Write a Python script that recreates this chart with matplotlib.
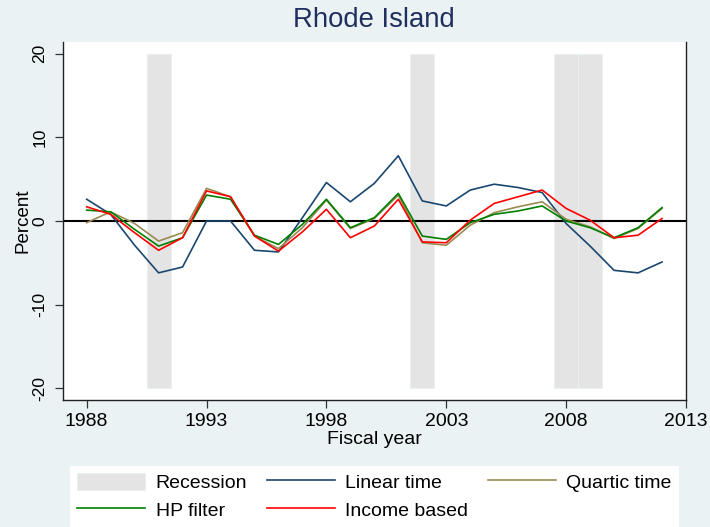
import matplotlib
matplotlib.use('Agg')
import matplotlib.pyplot as plt

plt.rcParams['font.family'] = ['Liberation Sans', 'DejaVu Sans']
plt.rcParams['axes.unicode_minus'] = False

# fiscal years and the four deviation measures (percent)
years = list(range(1988, 2013))
linear_time = [2.6, 0.8, -2.9, -6.2, -5.5, 0.0, 0.0, -3.5, -3.7, 0.4, 4.6, 2.3, 4.5, 7.8,
               2.4, 1.8, 3.7, 4.4, 4.0, 3.4, -0.3, -3.0, -5.9, -6.2, -4.9]
quartic_time = [-0.2, 1.1, -0.3, -2.4, -1.4, 3.9, 2.9, -1.8, -3.3, -0.8, 2.5, -0.9, 0.3, 3.1,
                -2.6, -2.9, -0.5, 1.0, 1.7, 2.3, 0.2, -0.7, -2.1, -0.9, 1.5]
hp_filter = [1.3, 1.1, -1.0, -3.0, -2.0, 3.1, 2.6, -1.7, -2.8, -0.4, 2.6, -0.8, 0.4, 3.3,
             -1.8, -2.2, -0.2, 0.8, 1.2, 1.8, 0.0, -0.8, -2.0, -0.8, 1.6]
income_based = [1.7, 0.8, -1.4, -3.5, -2.0, 3.6, 2.9, -1.8, -3.6, -1.3, 1.4, -2.0, -0.6, 2.6,
                -2.5, -2.6, 0.1, 2.1, 2.9, 3.7, 1.5, 0.1, -2.0, -1.7, 0.3]
recession_years = [1991, 2002, 2008, 2009]

xticks = [1988, 1993, 1998, 2003, 2008, 2013]
yticks = [-20, -10, 0, 10, 20]

bg = '#eaf2f3'
W, H = 710, 527

fig = plt.figure(figsize=(W / 100, H / 100), dpi=100, facecolor=bg)
ax = fig.add_axes([62.7 / W, (H - 400) / H, (686 - 62.7) / W, (400 - 42) / H])
ax.set_facecolor('white')

rec = ax.bar(recession_years, [40] * len(recession_years), bottom=-20, width=1.0,
             color='#e4e4e4', edgecolor='#eaf0f0', linewidth=0.8, zorder=1)
ax.axhline(0, color='black', lw=1.5, zorder=2)
l_lin, = ax.plot(years, linear_time, color='#1a476f', lw=1.2, zorder=3)
l_qua, = ax.plot(years, quartic_time, color='#9a8a52', lw=1.2, zorder=3)
l_hp, = ax.plot(years, hp_filter, color='#008000', lw=1.2, zorder=3)
l_inc, = ax.plot(years, income_based, color='#ff0000', lw=1.2, zorder=3)

ax.set_xlim(1987, 2013)
ax.set_ylim(-21.4, 21.4)
ax.set_xticks(xticks)
ax.set_yticks(yticks)
ax.tick_params(axis='both', length=6, width=0.9, color='#333333', labelsize=14, pad=3)
ax.tick_params(axis='y', labelrotation=90, labelsize=12.5, pad=5)
for lab in ax.get_yticklabels():
    lab.set_verticalalignment('center')

for side in ['left', 'bottom', 'right']:
    ax.spines[side].set_color('#222222')
    ax.spines[side].set_linewidth(1.0)
ax.spines['top'].set_visible(False)

ax.set_xlabel('Fiscal year', fontsize=14, labelpad=1)
ax.set_ylabel('Percent', fontsize=13.5, labelpad=1)

fig.text(374 / W, 1 - 20 / H, 'Rhode Island', ha='center', va='center',
         fontsize=19.8, color='#1f2f5e')

handles = [rec, l_hp, l_lin, l_inc, l_qua]
labels = ['Recession', 'HP filter', 'Linear time', 'Income based', 'Quartic time']
leg = fig.legend(handles, labels, ncol=3, loc='upper left',
                 bbox_to_anchor=(70 / W, 1 - 465.7 / H), borderaxespad=0,
                 frameon=True, fancybox=False, facecolor='white', edgecolor='none',
                 fontsize=14, handlelength=3.5, handletextpad=0.55, columnspacing=1.0,
                 borderpad=0.35, labelspacing=0.45, handleheight=1.0)
leg.get_frame().set_alpha(1)

fig.savefig('out.png', dpi=100, facecolor=bg)
